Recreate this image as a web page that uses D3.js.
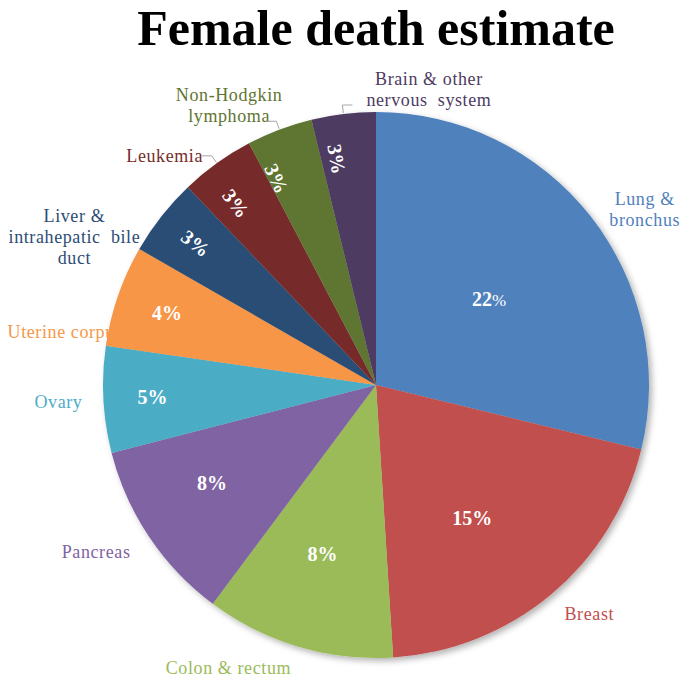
<!DOCTYPE html>
<html>
<head>
<meta charset="utf-8">
<script src="https://cdn.jsdelivr.net/npm/d3@7"></script>
<style>
  body { margin: 0; background: #fff; }
  svg { display: block; }
  text { font-family: 'Liberation Serif', 'Times New Roman', serif; }
</style>
</head>
<body>
<div id="root" class="root"></div>
<script>
// data
const causes = ['Lung & bronchus', 'Breast', 'Colon & rectum', 'Pancreas', 'Ovary',
  'Uterine corpus', 'Liver & intrahepatic bile duct', 'Leukemia',
  'Non-Hodgkin lymphoma', 'Brain & other nervous system'];
const share = [28.8, 20.2, 11.2, 10.8, 6.3, 6.0, 4.6, 4.4, 3.9, 3.8];
const pctLabels = ['22%', '15%', '8%', '8%', '5%', '4%', '3%', '3%', '3%', '3%'];
const labelLines = [['Lung &', 'bronchus'], ['Breast'], ['Colon & rectum'], ['Pancreas'],
  ['Ovary'], ['Uterine corpus'], ['Liver &', 'intrahepatic  bile', 'duct'], ['Leukemia'],
  ['Non-Hodgkin', 'lymphoma'], ['Brain & other', 'nervous  system']];

const colors = ['#4F81BD', '#C0504D', '#9BBB59', '#8064A2', '#4BACC6',
  '#F79646', '#2C4D75', '#772C2A', '#5F7530', '#4D3B62'];

// label layout (Excel best-fit placement, approximated)
const innerPos = [0.52, 0.60, 0.65, 0.70, 0.82, 0.81, 0.84, 0.84, 0.84, 0.84];
const innerShift = [1, 4, 1, 3, 0, 0, 0, -2, -5, -3];
const outerShift = [5, -3, 11, 3, 0, -9.4, -12, -7, -7, 17];
const outerOff = [48, 40, 46, 53, 45, 42.5, 63, 39, 43, 27];
const leader = [false, false, false, false, false, false, false, true, true, true];

const width = 692;
const height = 689;
const cx = 376;
const cy = 385;
const radius = 273;

const svg = d3.select('.root')
  .append('svg')
  .attr('width', width)
  .attr('height', height)
  .attr('viewBox', [0, 0, width, height]);

const defs = svg.append('defs');
const filter = defs.append('filter')
  .attr('id', 'shadow')
  .attr('x', '-10%').attr('y', '-10%')
  .attr('width', '120%').attr('height', '120%');
filter.append('feDropShadow')
  .attr('dx', 3)
  .attr('dy', 3)
  .attr('stdDeviation', 3)
  .attr('flood-color', '#000')
  .attr('flood-opacity', 0.3);

svg.append('text')
  .attr('id', 'title')
  .attr('x', cx)
  .attr('y', 45)
  .attr('text-anchor', 'middle')
  .style('font-size', '50px')
  .style('font-weight', 'bold')
  .text('Female death estimate');

const pie = d3.pie().sort(null).value((d) => d.v);
const slices = pie(share.map((v, i) => ({ v: v, i: i })));

const arc = d3.arc().innerRadius(0).outerRadius(radius);

const deg = (a) => a * 180 / Math.PI;
const rad = (a) => a * Math.PI / 180;
const polar = (angle, r) => [Math.sin(angle) * r, -Math.cos(angle) * r];

const g = svg.append('g').attr('transform', `translate(${cx},${cy})`);

// outer category labels (drawn first, the pie covers the end of "Uterine corpus")
const outer = g.append('g').attr('class', 'outer-labels');
slices.forEach((s, i) => {
  const mid = (s.startAngle + s.endAngle) / 2 + rad(outerShift[i]);
  const p = polar(mid, radius + outerOff[i]);
  const lines = labelLines[i];
  const lh = 21;
  const t = outer.append('text')
    .attr('text-anchor', 'middle')
    .attr('fill', colors[i])
    .style('font-size', '18px')
    .style('letter-spacing', '0.6px')
    .style('white-space', 'pre');
  lines.forEach((l, k) => {
    t.append('tspan')
      .attr('x', p[0])
      .attr('y', p[1] + (k - (lines.length - 1) / 2) * lh + 6)
      .text(l);
  });
});

// slices
g.append('g')
  .attr('filter', 'url(#shadow)')
  .selectAll('path')
  .data(slices)
  .enter()
  .append('path')
  .attr('d', arc)
  .attr('fill', (d) => colors[d.data.i]);

// leader lines
slices.forEach((s, i) => {
  if (!leader[i]) return;
  const mid = (s.startAngle + s.endAngle) / 2;
  const a = polar(mid, radius + 1);
  const b = polar(mid, radius + 9);
  const dir = i === 9 ? 1 : -1;
  g.append('polyline')
    .attr('points', [a, b, [b[0] + dir * 10, b[1]]].map((p) => p.join(',')).join(' '))
    .attr('fill', 'none')
    .attr('stroke', '#a6a6a6')
    .attr('stroke-width', 1);
});

// percentage labels
const inner = g.append('g').attr('class', 'inner-labels');
slices.forEach((s, i) => {
  const mid = (s.startAngle + s.endAngle) / 2 + rad(innerShift[i]);
  const p = polar(mid, radius * innerPos[i]);
  const rot = i >= 6 ? deg(mid) + 90 : 0;
  const t = inner.append('text')
    .attr('transform', `translate(${p[0]},${p[1]}) rotate(${rot})`)
    .attr('text-anchor', 'middle')
    .attr('dy', '0.35em')
    .attr('fill', '#fff')
    .style('font-size', '20px')
    .style('font-weight', 'bold');
  const num = pctLabels[i].replace('%', '');
  t.append('tspan').text(num);
  t.append('tspan')
    .style('font-size', i === 0 ? '17px' : '20px')
    .style('font-weight', i === 0 ? 'normal' : 'bold')
    .text('%');
});
</script>
</body>
</html>
